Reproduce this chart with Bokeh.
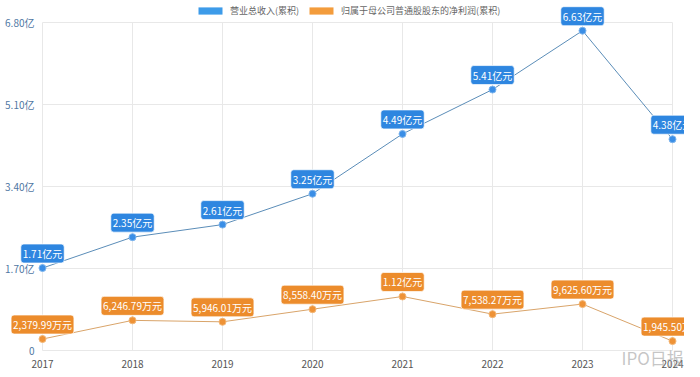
from bokeh.plotting import figure
from bokeh.models import ColumnDataSource, Legend, LegendItem, Range1d, Label
from bokeh.core.properties import value
from bokeh.embed import file_html
from bokeh.resources import INLINE

years = [2017, 2018, 2019, 2020, 2021, 2022, 2023, 2024]
revenue_yi = [1.71, 2.35, 2.61, 3.25, 4.49, 5.41, 6.63, 4.38]
profit_wan = [2379.99, 6246.79, 5946.01, 8558.40, 11200.00, 7538.27, 9625.60, 1945.50]
y_ticks = [0, 1.70, 3.40, 5.10, 6.80]
y_tick_labels = ["0", "1.70亿", "3.40亿", "5.10亿", "6.80亿"]
x_tick_labels = ["2017", "2018", "2019", "2020", "2021", "2022", "2023", "2024"]
series_names = ["营业总收入(累积)", "归属于母公司普通股股东的净利润(累积)"]
watermark = "IPO日报"

FONT = "Noto Sans CJK SC"
BLUE = "#3a8ee6"
BLUE_LINE = "#5b8db8"
ORANGE = "#ee9236"
ORANGE_LINE = "#d9a46a"
GRID = "#e8e8e8"

# layout in pixels (figure = whole frame, grid area inset)
W, H = 684, 375
PAD_L, PAD_R, PAD_T, PAD_B = 42, 12, 22, 25
x_scale = (W - PAD_L - PAD_R) / (years[-1] - years[0])
y_scale = (H - PAD_T - PAD_B) / (y_ticks[-1] - y_ticks[0])
x_range = Range1d(years[0] - PAD_L / x_scale, years[-1] + PAD_R / x_scale)
y_range = Range1d(y_ticks[0] - PAD_B / y_scale, y_ticks[-1] + PAD_T / y_scale)

def fmt_wan(v):
    if v >= 10000:
        return f"{v/10000:.2f}亿元"
    return f"{v:,.2f}万元"

rev_src = ColumnDataSource(dict(x=years, y=revenue_yi, label=[f"{v:.2f}亿元" for v in revenue_yi]))
pro_src = ColumnDataSource(dict(x=years, y=[v / 10000 for v in profit_wan], label=[fmt_wan(v) for v in profit_wan]))

p = figure(width=W, height=H, x_range=x_range, y_range=y_range,
           output_backend="svg", toolbar_location=None,
           x_axis_location=None, y_axis_location=None,
           min_border=0)
p.outline_line_color = None
p.xgrid.visible = False
p.ygrid.visible = False

# grid lines
p.segment(x0=years, y0=[y_ticks[0]] * len(years), x1=years, y1=[y_ticks[-1]] * len(years),
          line_color=GRID, line_width=1)
p.segment(x0=[years[0]] * len(y_ticks), y0=y_ticks, x1=[years[-1]] * len(y_ticks), y1=y_ticks,
          line_color=GRID, line_width=1)

# tick labels
p.text(x=[years[0]] * len(y_ticks), y=y_ticks, text=y_tick_labels, x_offset=-8,
       text_align="right", text_baseline="middle", text_font=value(FONT),
       text_font_size="10px", text_color="#4f77a3")
p.text(x=years, y=[y_ticks[0]] * len(years), text=x_tick_labels, y_offset=9,
       text_align="center", text_baseline="top", text_font=value(FONT),
       text_font_size="10px", text_color="#555555")

# series
p.line("x", "y", source=rev_src, line_color=BLUE_LINE, line_width=1)
p.scatter("x", "y", source=rev_src, size=7, fill_color=BLUE, line_color="#7fb6ee")
p.line("x", "y", source=pro_src, line_color=ORANGE_LINE, line_width=1)
p.scatter("x", "y", source=pro_src, size=7, fill_color=ORANGE, line_color="#f4b878")

for src, col in ((rev_src, "#2e86e0"), (pro_src, "#ec8c2c")):
    p.text("x", "y", text="label", source=src, y_offset=-5, anchor="bottom_center",
           text_color="white", text_font=value(FONT), text_font_size="10px",
           background_fill_color=col, border_line_color="white", border_line_alpha=0.7,
           padding=2, border_radius=3)

# watermark
p.add_layout(Label(x=621, y=H - 357, x_units="screen", y_units="screen", text=watermark,
                   text_baseline="middle", text_font=FONT, text_font_size="17px",
                   text_color="#a0a0a0", text_alpha=0.6))

# legend
nan = float("nan")
leg_r1 = p.quad(left=[nan], right=[nan], top=[nan], bottom=[nan], fill_color="#3d9be9", line_color=None)
leg_r2 = p.quad(left=[nan], right=[nan], top=[nan], bottom=[nan], fill_color="#f39c3c", line_color=None)
legend = Legend(items=[LegendItem(label=series_names[0], renderers=[leg_r1]),
                       LegendItem(label=series_names[1], renderers=[leg_r2])],
                orientation="horizontal", location=(195, H - 17), glyph_width=30, glyph_height=9,
                label_text_font=FONT, label_text_font_size="9px", label_text_color="#666666",
                label_height=9, label_standoff=5, spacing=7, padding=0, margin=0,
                border_line_color=None, background_fill_alpha=0)
p.add_layout(legend)

open("out.html", "w").write(file_html(p, INLINE))
